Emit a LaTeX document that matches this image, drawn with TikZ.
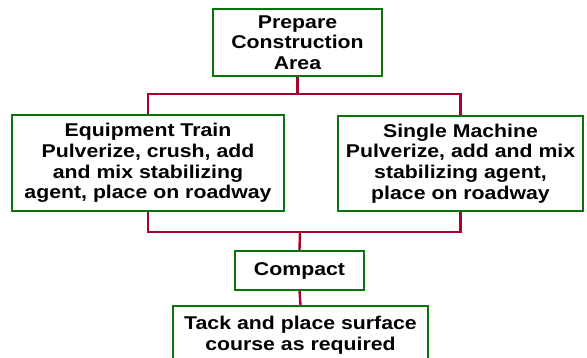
\documentclass[tikz,border=0pt]{standalone}
\usepackage{fontspec}
\setmainfont{Liberation Sans}[FakeStretch=1.15]
\definecolor{boxgreen}{RGB}{10,115,10}
\definecolor{connred}{RGB}{165,5,45}
\begin{document}
\begin{tikzpicture}[x=1pt,y=1pt,
  box/.style={draw=boxgreen, line width=1.6pt, fill=white, align=center,
    inner sep=0pt, font=\fontsize{18.5}{20.7}\selectfont\bfseries},
  conn/.style={draw=connred, line width=2.4pt}]
\useasboundingbox (0,0) rectangle (587,358);
\clip (0,0) rectangle (587,358);
\node[box, minimum width=169pt, minimum height=67pt] (top) at (297.5,315.5) {Prepare\\Construction\\Area};
\node[box, minimum width=272pt, minimum height=96pt] (left) at (148,195) {Equipment Train\\Pulverize, crush, add\\and mix stabilizing\\agent, place on roadway};
\node[box, minimum width=245pt, minimum height=95pt] (right) at (460.5,194.5) {Single Machine\\Pulverize, add and mix\\stabilizing agent,\\place on roadway};
\node[box, minimum width=129pt, minimum height=39pt] (compact) at (299.5,87.5) {Compact};
\node[box, minimum width=255pt, minimum height=59pt] (bottom) at (300.5,22.5) {Tack and place surface\\course as required};
\coordinate (ju) at (298,264);
\coordinate (jl) at (300,126);
\draw[conn] (top.south) -- (top.south |- ju);
\draw[conn] (left.north) |- (ju) -| (right.north);
\draw[conn] (left.south) |- (jl) -| (right.south);
\draw[conn] (jl) -- (compact.north);
\draw[conn] (compact.south) -- (bottom.north);
\end{tikzpicture}
\end{document}
